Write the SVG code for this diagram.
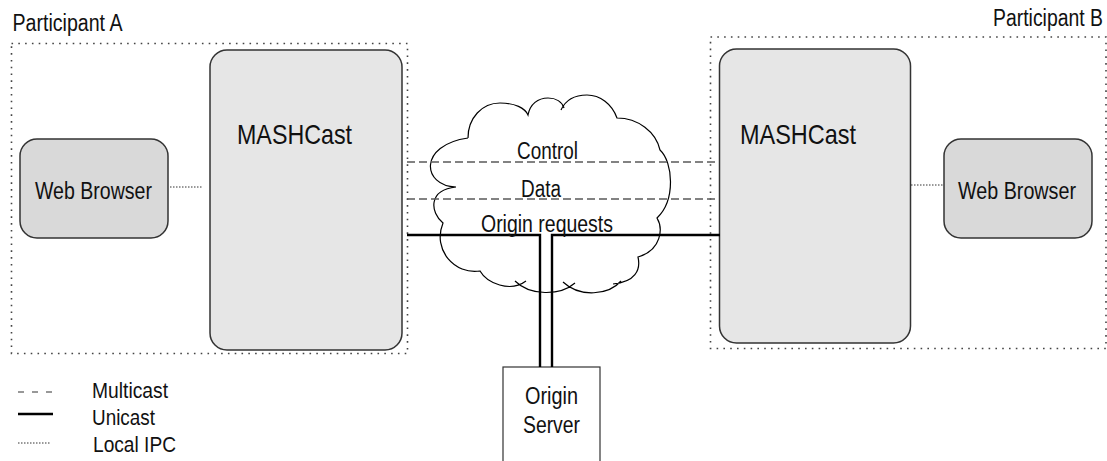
<svg xmlns="http://www.w3.org/2000/svg" width="1107" height="461" viewBox="0 0 1107 461">
<defs>
<style>
text{font-family:"Liberation Sans",Arial,sans-serif;fill:#111}
.lbl{font-size:23.5px}
.big{font-size:28px}
.leg{font-size:22px}
.container{fill:none;stroke:#444;stroke-width:1.6;stroke-dasharray:1.6 5.2}
.mash{fill:#e6e6e6;stroke:#333;stroke-width:1.5}
.web{fill:#d9d9d9;stroke:#333;stroke-width:1.5}
.multi{fill:none;stroke:#595959;stroke-width:1.7;stroke-dasharray:8 4}
.uni{fill:none;stroke:#000;stroke-width:2.4}
.ipc{fill:none;stroke:#333;stroke-width:1;stroke-dasharray:1.5 1.5}
.cloud{fill:#fff;stroke:#000;stroke-width:1.2}
.server{fill:#fff;stroke:#333;stroke-width:1.2}
</style>
</defs>
<rect width="1107" height="461" fill="#fff"/>

<g id="participant-a">
<text class="lbl" x="12.5" y="31" textLength="110" lengthAdjust="spacingAndGlyphs">Participant A</text>
<rect class="container" x="11.5" y="43.5" width="396" height="310"/>
</g>
<g id="participant-b">
<text class="lbl" x="993" y="26" textLength="110" lengthAdjust="spacingAndGlyphs">Participant B</text>
<rect class="container" x="710.5" y="37" width="395.5" height="311.5"/>
</g>

<g id="cloud">
<path fill="#fff" d="M468,138 C468,118 482,103 500,103 C515,103 525,108 528,115 C530,104 538,98 548,98 C556,98 562,102 564,108 C566,99 576,95 587,95 C600,95 612,104 617,118 C638,118 656,132 660,150 C673,162 676,200 657,218 C663,228 662,250 638,257 C641,270 635,282 615,284 C605,295 580,298 567,285 C558,296 530,296 518,283 C505,292 487,283 480,271 C455,275 432,250 443,223 C430,212 428,190 456,187 C422,186 418,145 468,138 Z"/>
<path class="cloud" fill="none" d="M468,138 C468,118 482,103 500,103 C515,103 525,108 528,115 C530,104 538,98 548,98 C556,98 562,102 564,108 M561,110 C566,99 576,95 587,95 C600,95 612,104 617,118 C638,118 656,132 660,150 C673,162 676,200 657,218 C663,228 662,250 638,257 C641,270 635,282 613,284 M621,281 C609,295 580,298 563,282 M575,283 C560,296 530,296 515,281 M526,281 C510,293 487,283 480,271 C455,275 432,250 443,223 C430,212 428,190 456,187 C422,186 418,145 468,138" style="fill:none"/>
</g>

<g id="mashcast-a">
<rect class="mash" x="210" y="50" width="192" height="300" rx="17"/>
<text class="big" x="237" y="144" textLength="115" lengthAdjust="spacingAndGlyphs">MASHCast</text>
</g>
<g id="web-browser-a">
<rect class="web" x="20" y="139" width="148" height="99" rx="17"/>
<text class="lbl" x="35" y="199" textLength="117" lengthAdjust="spacingAndGlyphs">Web Browser</text>
</g>
<g id="mashcast-b">
<rect class="mash" x="719.5" y="49" width="191" height="294" rx="17"/>
<text class="big" x="740" y="144" textLength="116" lengthAdjust="spacingAndGlyphs">MASHCast</text>
</g>
<g id="web-browser-b">
<rect class="web" x="944" y="139" width="148" height="99" rx="17"/>
<text class="lbl" x="958" y="199" textLength="118" lengthAdjust="spacingAndGlyphs">Web Browser</text>
</g>
<g id="origin-server">
<rect class="server" x="503" y="367" width="97" height="110"/>
<text class="lbl" x="525" y="404" textLength="53" lengthAdjust="spacingAndGlyphs">Origin</text>
<text class="lbl" x="523" y="433" textLength="57" lengthAdjust="spacingAndGlyphs">Server</text>
</g>

<g id="connectors">
<line class="ipc" x1="170" y1="187" x2="203" y2="187"/>
<line class="ipc" x1="911" y1="185" x2="943" y2="185"/>
<line class="multi" x1="407" y1="162" x2="719" y2="162"/>
<line class="multi" x1="407" y1="199" x2="719" y2="199"/>
<path class="uni" d="M407,235 H540 V367"/>
<path class="uni" d="M720,235 H552 V367"/>
</g>

<g id="cloud-labels">
<text class="lbl" x="517" y="159" textLength="61" lengthAdjust="spacingAndGlyphs">Control</text>
<text class="lbl" x="521" y="197" textLength="40" lengthAdjust="spacingAndGlyphs">Data</text>
<text class="lbl" x="481" y="232" textLength="132" lengthAdjust="spacingAndGlyphs">Origin requests</text>
</g>

<g id="legend">
<line x1="18" y1="392" x2="53" y2="392" style="fill:none;stroke:#333;stroke-width:1.2;stroke-dasharray:6 8"/>
<text class="leg" x="92" y="398" textLength="76" lengthAdjust="spacingAndGlyphs">Multicast</text>
<line class="uni" x1="18" y1="414" x2="53" y2="414"/>
<text class="leg" x="92" y="425" textLength="63" lengthAdjust="spacingAndGlyphs">Unicast</text>
<line class="ipc" x1="18" y1="443" x2="50" y2="443"/>
<text class="leg" x="93" y="452" textLength="83" lengthAdjust="spacingAndGlyphs">Local IPC</text>
</g>
</svg>
